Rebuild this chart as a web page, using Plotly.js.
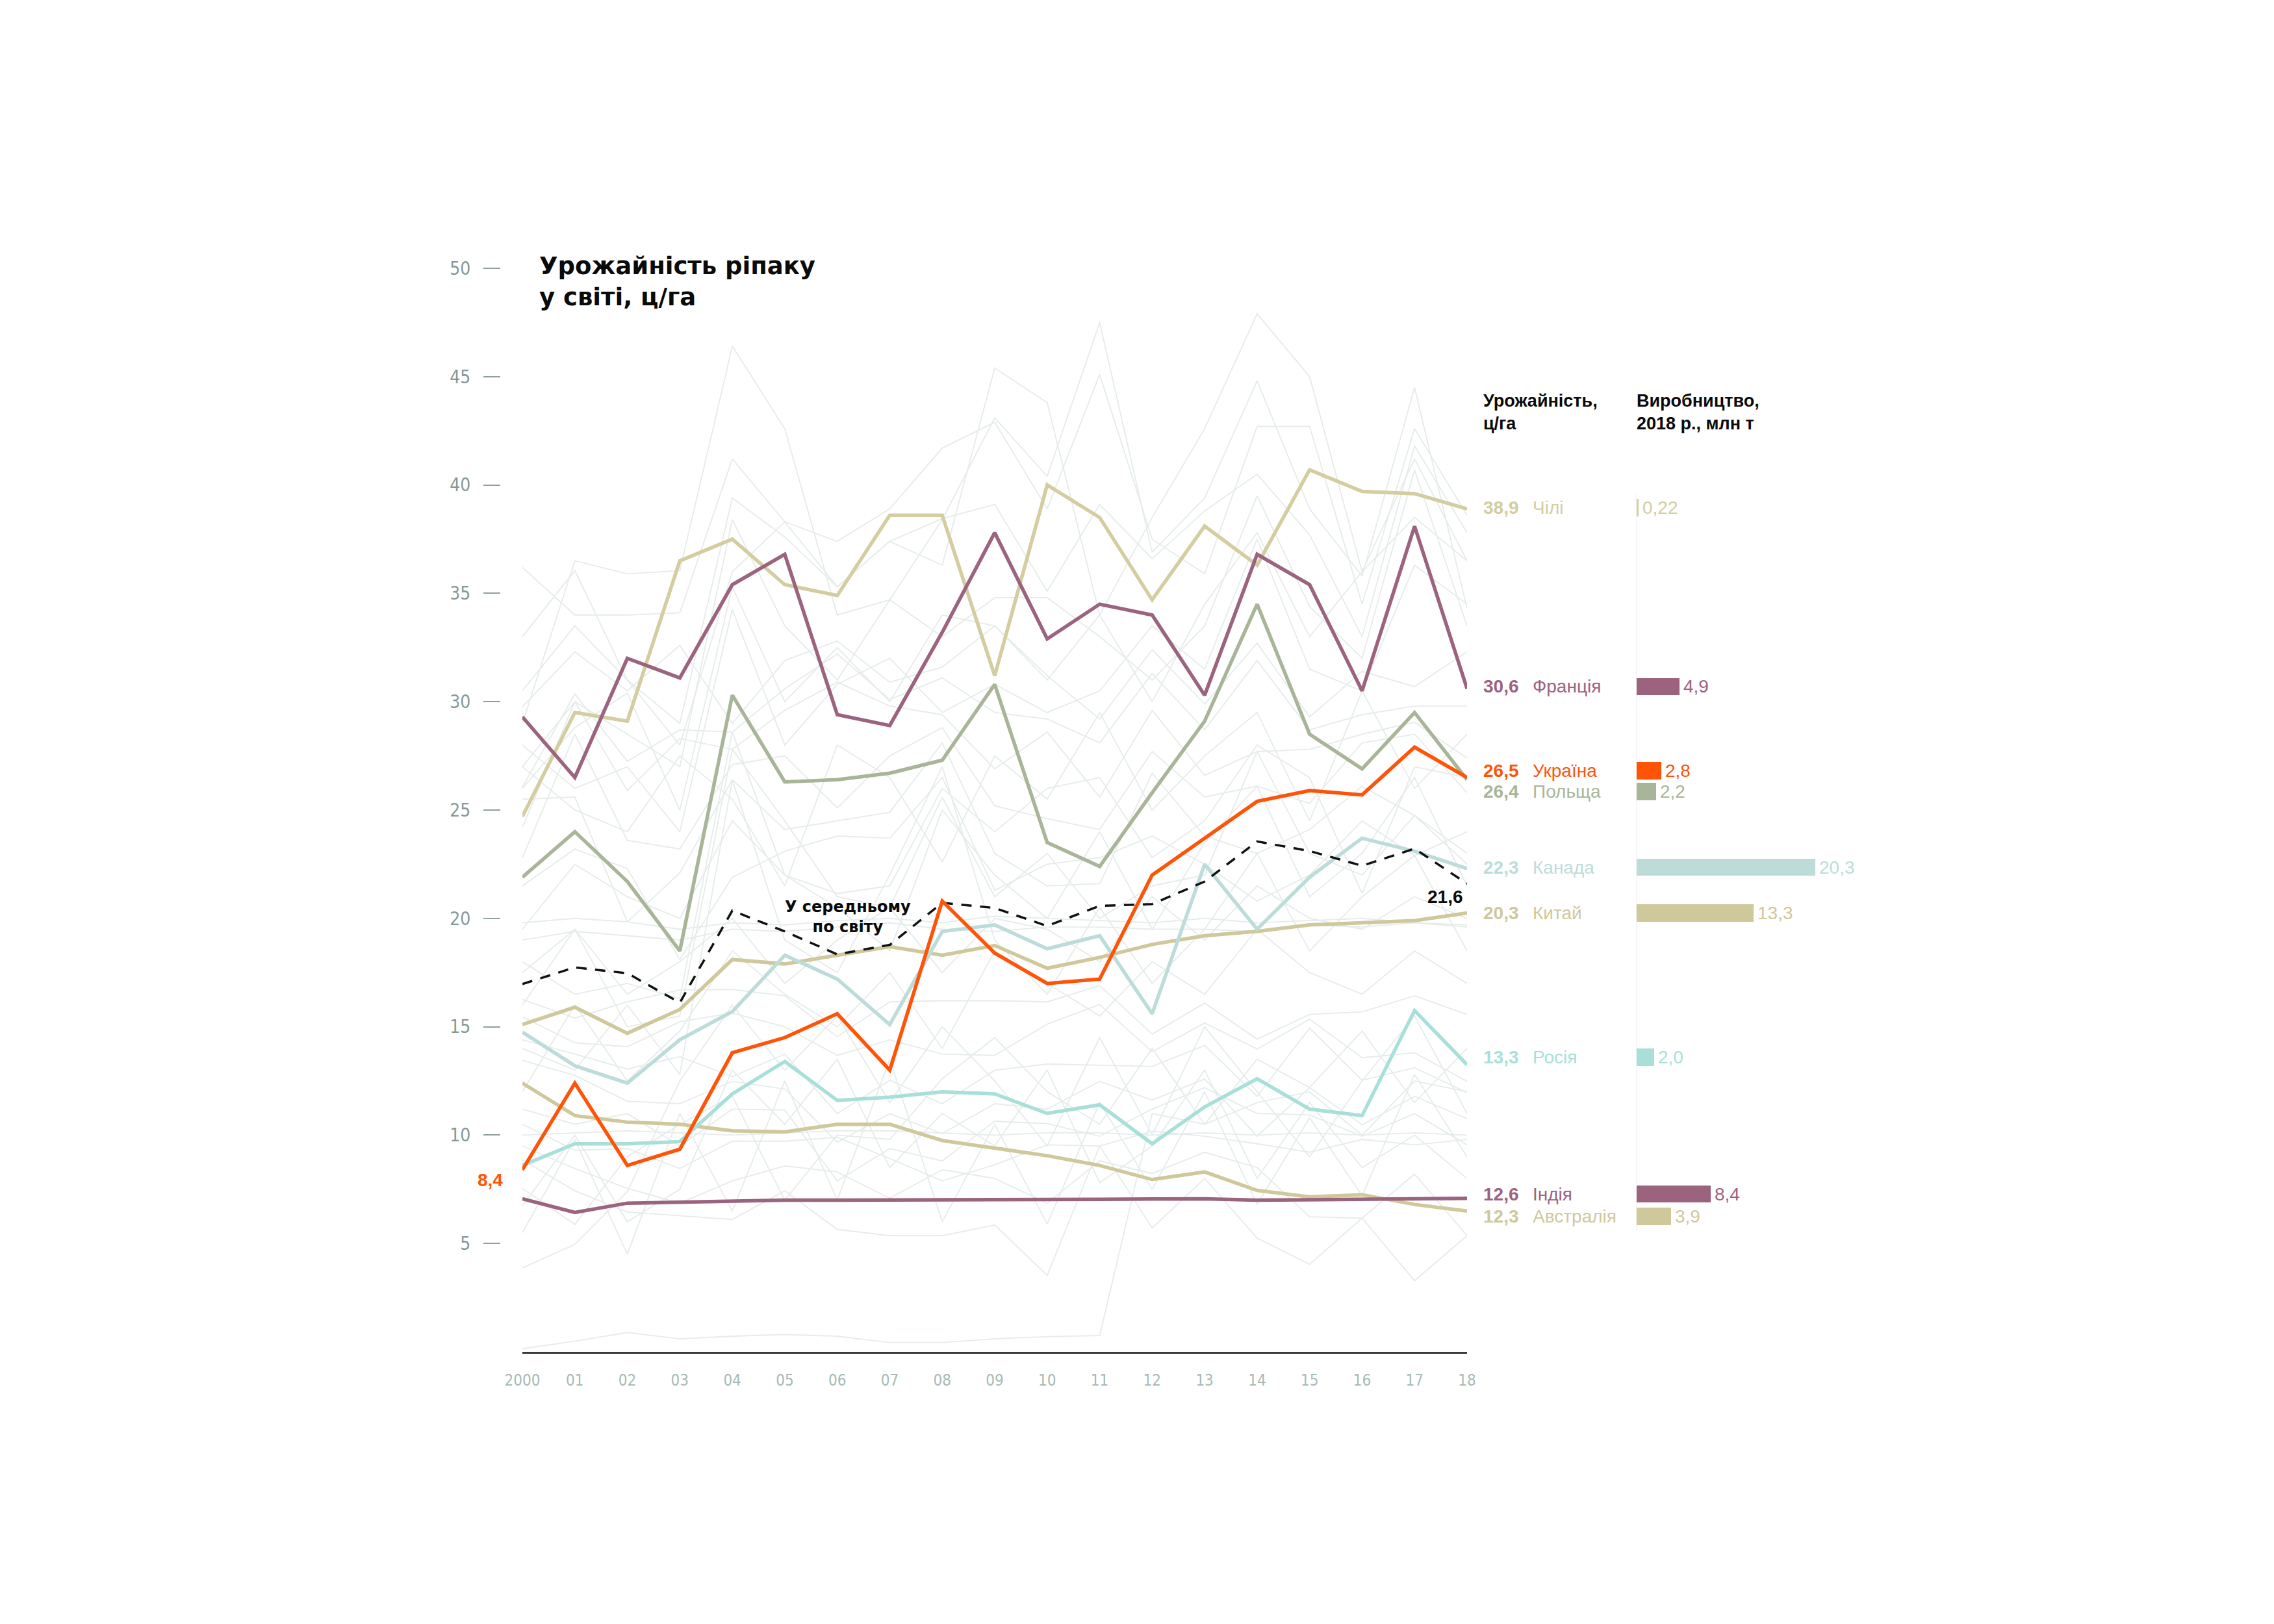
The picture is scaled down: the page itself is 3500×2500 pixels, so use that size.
<!DOCTYPE html>
<html>
<head>
<meta charset="utf-8">
<script src="https://cdn.plot.ly/plotly-3.0.1.min.js"></script>
<style>html,body{margin:0;padding:0;background:#fff;}#chart{width:3500px;height:2500px;}</style>
</head>
<body>
<div id="chart"></div>
<script>
// ---------- DATA ----------
const years = [2000,2001,2002,2003,2004,2005,2006,2007,2008,2009,2010,2011,2012,2013,2014,2015,2016,2017,2018];
const yearLabels = ['2000','01','02','03','04','05','06','07','08','09','10','11','12','13','14','15','16','17','18'];
const yTicks = [5,10,15,20,25,30,35,40,45,50];

// highlighted countries, yield (ц/га)
const chile     = [24.7,29.5,29.1,36.5,37.5,35.4,34.9,38.6,38.6,31.2,40.0,38.5,34.7,38.1,36.3,40.7,39.7,39.6,38.9];
const france    = [29.3,26.5,32.0,31.1,35.4,36.8,29.4,28.9,33.2,37.8,32.9,34.5,34.0,30.3,36.8,35.4,30.5,38.1,30.6];
const ukraine   = [8.4,12.4,8.6,9.35,13.8,14.5,15.6,13.0,20.8,18.4,17.0,17.2,22.0,23.7,25.4,25.9,25.7,27.9,26.5];
const poland    = [21.9,24.0,21.7,18.5,30.3,26.3,26.4,26.7,27.3,30.8,23.5,22.4,25.8,29.1,34.5,28.5,26.9,29.5,26.4];
const canada    = [14.75,13.2,12.4,14.4,15.7,18.3,17.2,15.1,19.4,19.7,18.6,19.2,15.6,22.5,19.5,21.9,23.7,23.1,22.3];
const china     = [15.1,15.9,14.7,15.8,18.1,17.9,18.3,18.7,18.3,18.75,17.7,18.2,18.8,19.2,19.4,19.7,19.8,19.9,20.25];
const russia    = [8.6,9.6,9.6,9.7,11.9,13.4,11.6,11.75,12.0,11.9,11.0,11.4,9.6,11.3,12.6,11.2,10.9,15.75,13.25];
const india     = [7.06,6.43,6.86,6.91,6.97,7.0,7.0,7.0,7.0,7.02,7.03,7.04,7.05,7.06,7.0,7.03,7.06,7.07,7.08];
const australia = [12.4,10.9,10.6,10.5,10.2,10.15,10.5,10.5,9.75,9.4,9.05,8.6,7.95,8.3,7.45,7.15,7.25,6.8,6.5];
const worldAvg  = [16.97,17.74,17.47,16.11,20.36,19.4,18.34,18.78,20.72,20.48,19.65,20.58,20.66,21.7,23.55,23.11,22.43,23.22,21.6];

// right-hand table
const countryNames   = ['Чілі','Франція','Україна','Польща','Канада','Китай','Росія','Індія','Австралія'];
const yieldLabels    = ['38,9','30,6','26,5','26,4','22,3','20,3','13,3','12,6','12,3'];
const production2018 = [0.22,4.9,2.8,2.2,20.3,13.3,2.0,8.4,3.9];
const productionText = ['0,22','4,9','2,8','2,2','20,3','13,3','2,0','8,4','3,9'];

// other countries (background lines)
const others = [
  [30.5,33.5,31,28,36,38.3,35.3,37.4,36.3,45.4,43.8,34.0,38.5,42.6,47.9,45.0,36.0,41.2,36.5],
  [29,36.5,35.9,36.05,46.4,42.6,34.0,34.7,38.4,43.1,40.4,47.5,36.9,39.4,44.8,38.9,35.8,44.5,34.3],
  [36.2,34.0,34.0,34.1,41.2,38.3,37.4,38.9,41.7,42.9,38.9,45.1,37.5,35.9,42.7,42.7,34.5,42.6,38.6],
  [33,36.05,31,29,39.4,37.6,35.3,37.4,38.45,39.1,35.1,39.1,36.6,38.8,40.5,37.7,33,41.8,37.8],
  [27,30,28.5,27,38.4,33.5,31,34.7,33,34.8,34.8,33,31,33.5,39.5,34.4,32,40.7,33.5],
  [26,28.8,30.4,25,35.3,30,32.5,30,34,33.5,31,34,30,34.5,37.8,33,36,38.5,36.5],
  [28,26,27,24,34.25,28,30.8,32,29.5,30.8,29.5,30.5,33.5,31.5,37.5,31.5,30.5,36.3,34.5],
  [29.76,32.3,30.5,32.6,29.0,31.9,32.8,30.9,31.6,33.5,31.2,29.2,32.4,29.9,32.7,29.3,31.4,30.7,32.3],
  [26.05,30.36,27.25,28.7,28.6,30.6,32.2,30.1,31.1,29.5,29.2,28.1,31.3,28.7,31.9,28.7,29.4,29.8,29.8],
  [24.2,30.0,25.9,28.3,27.8,29.6,30.9,29.8,29.4,26.9,28.6,25.6,29.6,26.6,27.7,27.8,28.5,29.05,27.4],
  [22.8,28.5,23.6,23.2,27.1,27.5,25.1,27.5,28.8,25.2,24.6,24.1,27.7,25.6,26.1,25.3,28.1,28.5,25.8],
  [25.5,25.6,19.84,22.1,26.4,24.1,24.5,24.9,28.1,23.0,21.5,21.6,26.7,23.8,23.0,24.1,26.1,24.75,22.5],
  [21.5,23.2,22.3,18.1,21.9,23.1,23.8,23.7,26.5,21.3,22.5,22.8,23.8,22.5,20.8,22.0,24.5,22.9,24.0],
  [19.5,22.5,21.0,20.0,24.5,22.0,21.15,21.5,26.0,24.0,26.0,26.5,22.8,24.5,28.0,26.5,21.15,27.0,26.5],
  [27.0,25.0,24.0,27.5,25.5,21.5,28.0,26.5,22.6,27.5,25.5,29.5,25.0,27.5,29.5,24.5,30.5,26.0,28.5],
  [16.26,15.4,16.15,16.7,16.72,16.43,14.54,16.15,16.2,16.2,16.15,16.9,14.66,16.09,14.43,15.57,15.69,16.43,15.57],
  [15.46,14.26,14.08,15.23,15.63,15.0,13.68,14.4,13.74,13.68,15.12,16.03,13.85,15.17,13.97,15.35,13.57,13.8,12.48],
  [14.4,13.74,13.05,13.62,12.7,13.74,10.99,12.53,11.45,12.99,13.28,13.22,13.17,14.14,11.79,14.94,12.53,13.11,11.96],
  [13.45,12.76,11.56,11.45,12.48,12.13,9.67,10.99,10.07,11.45,11.2,12.48,11.62,12.59,9.95,12.19,10.47,11.79,10.76],
  [11.2,10.5,10.99,9.5,11.2,11.16,7.89,9.38,8.81,10.64,10.53,9.95,11.2,12.19,11.0,10.93,9.95,10.99,9.55],
  [10.5,9.3,9.38,8.46,9.72,9.72,9.9,8.92,7.89,8.63,9.55,9.5,10.18,9.95,9.6,9.21,9.8,9.55,9.8],
  [9.5,8.46,7.54,6.86,7.89,8.58,8.3,7.09,8.4,8.0,6.86,8.81,8.23,9.21,8.5,6.23,6.17,8.2,5.36],
  [8.86,7.43,6.45,6.28,6.11,7.43,5.65,5.36,5.36,5.85,3.53,9.5,5.71,8.0,5.25,4.04,6.17,3.28,5.36],
  [7.54,5.88,9.0,10.5,11.8,7.0,10.0,9.8,12.6,14.5,12.0,10.5,14.0,10.5,13.5,12.2,14.8,11.5,14.0],
  [3.87,4.96,7.4,12.5,16.0,13.0,15.5,11.5,15.0,12.5,9.5,14.5,10.0,15.0,12.0,9.0,12.5,15.5,11.0],
  [0.14,0.49,0.89,0.6,0.72,0.8,0.72,0.43,0.43,0.6,0.7,0.75,11.0,10.5,11.5,12.0,10.0,12.5,12.0],
  [6.74,10.0,6.0,7.5,13.0,10.5,13.5,8.5,11.0,9.5,13.0,7.8,9.5,13.0,8.0,11.5,8.5,10.0,8.0],
  [12.0,16.0,12.5,14.8,18.5,16.5,15.0,17.5,14.0,18.5,17.0,15.5,18.0,16.5,19.5,17.5,16.5,18.5,17.0],
  [17.5,19.5,16.5,18.0,20.0,17.0,19.0,20.5,17.5,20.0,19.5,18.0,21.0,19.0,21.5,20.0,19.5,21.0,20.0],
  [19.8,20.0,19.84,19.5,19.8,19.7,19.9,20.0,19.8,20.1,20.0,19.9,19.8,20.0,19.8,19.9,20.0,19.8,19.6],
  [19.0,19.4,19.2,19.0,19.5,19.4,19.6,19.8,19.5,19.4,19.6,19.6,19.5,19.5,19.4,19.7,19.6,19.8,19.7],
  [10.0,10.1,10.2,10.1,10.0,10.1,10.2,10.2,10.1,10.0,10.1,10.1,10.0,10.1,10.0,10.1,10.0,10.1,10.0],
  [5.5,9.8,4.5,11.0,6.5,12.5,7.0,13.5,6.0,10.5,5.9,11.5,7.5,12.0,6.8,10.8,7.2,12.8,9.0],
  [18.0,16.5,17.0,16.3,28.6,22.0,20.5,18.5,25.0,22.0,20.0,24.0,19.5,23.5,26.1,21.0,23.0,26.5,21.5],
  [16.0,19.5,15.0,15.5,27.8,24.5,21.0,20.5,25.6,21.0,23.0,20.0,21.5,22.0,27.7,23.0,22.0,24.75,23.0],
  [14.0,13.0,16.0,12.8,26.4,19.0,17.5,22.0,27.0,19.0,16.5,20.5,17.0,19.5,23.0,18.5,21.0,22.9,18.5]
];

// ---------- STYLE ----------
const C = {
  chile:'#d3cda0', france:'#9c637f', ukraine:'#ff5407', poland:'#a9b598',
  canada:'#bddcd9', china:'#cfc89b', russia:'#a8e0d9', india:'#9c637f', australia:'#cfc89b',
  grey:'#e6eceb', tick:'#8da09e', xtick:'#a6b9b5'
};
const seriesList = [chile,france,ukraine,poland,canada,china,russia,india,australia];
const colorList = [C.chile,C.france,C.ukraine,C.poland,C.canada,C.china,C.russia,C.india,C.australia];
const labelNudge = [0.05,0.1,0.32,-0.54,0.06,0.0,0.35,0.2,-0.25];

const W = 3500, H = 2500;
const px = v => v / W;
const py = v => (H - v) / H;
const NARROW = 'Liberation Sans Narrow, DejaVu Sans Condensed, Liberation Sans, sans-serif';
const SANS = 'Liberation Sans, Arial, sans-serif';
const HEAVY = 'DejaVu Sans, Liberation Sans, sans-serif';

const traces = [];
others.forEach(s => traces.push({
  x: years, y: s, xaxis:'x', yaxis:'y', type:'scatter', mode:'lines',
  line:{color:C.grey, width:1.9}, hoverinfo:'skip'
}));
function hl(s, c, w){ return {x: years, y: s, xaxis:'x', yaxis:'y', type:'scatter', mode:'lines', line:{color:c, width:w||5.5}, hoverinfo:'skip'}; }
traces.push(hl(china, C.china));
traces.push(hl(australia, C.australia));
traces.push(hl(chile, C.chile));
traces.push(hl(canada, C.canada));
traces.push(hl(russia, C.russia));
traces.push(hl(poland, C.poland));
traces.push(hl(france, C.france));
traces.push(hl(india, C.india));
traces.push({x: years, y: worldAvg, xaxis:'x', yaxis:'y', type:'scatter', mode:'lines',
  line:{color:'#111', width:3.5, dash:'16px,13px'}, hoverinfo:'skip'});
traces.push(hl(ukraine, C.ukraine));

// production bars
const labelY = seriesList.map((s,i) => s[s.length-1] + labelNudge[i]);
traces.push({
  type:'bar', orientation:'h', x: production2018, y: labelY, xaxis:'x2', yaxis:'y',
  width: 0.8, marker:{color: colorList, line:{width:0}}, hoverinfo:'skip'
});

const annotations = [];
// title
annotations.push({xref:'paper', yref:'paper', x:px(828), y:py(386), xanchor:'left', yanchor:'top', align:'left',
  showarrow:false, text:'<b>Урожайність ріпаку<br>у світі, ц/га</b>', font:{family:HEAVY, size:37, color:'#0a0a0a'}});
// column headers
annotations.push({xref:'paper', yref:'paper', x:px(2281), y:py(600), xanchor:'left', yanchor:'top', align:'left',
  showarrow:false, text:'<b>Урожайність,<br>ц/га</b>', font:{family:SANS, size:27, color:'#0a0a0a'}});
annotations.push({xref:'paper', yref:'paper', x:px(2517), y:py(600), xanchor:'left', yanchor:'top', align:'left',
  showarrow:false, text:'<b>Виробництво,<br>2018 р., млн т</b>', font:{family:SANS, size:27, color:'#0a0a0a'}});
// right labels
countryNames.forEach((n,i) => {
  annotations.push({xref:'paper', yref:'y', x:px(2281), y:labelY[i], xanchor:'left', yanchor:'middle', showarrow:false,
    text:'<b>'+yieldLabels[i]+'</b>', font:{family:SANS, size:28, color:colorList[i]}});
  annotations.push({xref:'paper', yref:'y', x:px(2357), y:labelY[i], xanchor:'left', yanchor:'middle', showarrow:false,
    text:n, font:{family:SANS, size:28, color:colorList[i]}});
  annotations.push({xref:'x2', yref:'y', x:production2018[i], y:labelY[i], xanchor:'left', yanchor:'middle', xshift:4, showarrow:false,
    text:productionText[i], font:{family:SANS, size:28, color:colorList[i]}});
});
// world average label
annotations.push({xref:'x', yref:'y', x:2006.2, y:worldAvg[6], xanchor:'center', yanchor:'bottom', yshift:26, showarrow:false,
  text:'<b>У середньому<br>по світу</b>', font:{family:HEAVY, size:24, color:'#0a0a0a'}});
annotations.push({xref:'x', yref:'y', x:2018, y:worldAvg[18], xanchor:'right', yanchor:'middle', xshift:-4, yshift:-20, showarrow:false,
  text:'<b>21,6</b>', font:{family:SANS, size:28, color:'#0a0a0a'}});
annotations.push({xref:'x', yref:'y', x:2000, y:ukraine[0], xanchor:'right', yanchor:'middle', xshift:-28, yshift:-16, showarrow:false,
  text:'<b>8,4</b>', font:{family:SANS, size:28, color:C.ukraine}});

const layout = {
  width:W, height:H, margin:{l:0,r:0,t:0,b:0}, paper_bgcolor:'#fff', plot_bgcolor:'rgba(0,0,0,0)',
  showlegend:false, separators:',.', bargap:0,
  xaxis:{domain:[px(804), px(2258)], range:[2000,2018], anchor:'y', showgrid:false, zeroline:false,
    showline:true, linecolor:'#3a3a3a', linewidth:3, ticks:'', tickvals:years, ticktext:yearLabels,
    tickfont:{family:NARROW, size:24, color:C.xtick}, ticklabelstandoff:20, fixedrange:true},
  yaxis:{domain:[(H-2081)/H, (H-413)/H], range:[0,50], anchor:'free', position:px(770), side:'left',
    showgrid:false, zeroline:false, showline:false, ticks:'outside', ticklen:26, tickwidth:2, tickcolor:C.tick,
    tickvals:yTicks, tickfont:{family:NARROW, size:28, color:'#849896'}, ticklabelstandoff:14, fixedrange:true},
  xaxis2:{domain:[px(2519), px(2819)], range:[0, 300/13.57], anchor:'y', visible:false, fixedrange:true},
  shapes:[{type:'line', xref:'paper', yref:'paper', x0:px(2519), x1:px(2519), y0:py(760), y1:py(1895),
    line:{color:'#f3f3f3', width:1.5}, layer:'below'}],
  annotations: annotations
};
Plotly.newPlot('chart', traces, layout, {staticPlot:true, displayModeBar:false});
</script>
</body>
</html>
